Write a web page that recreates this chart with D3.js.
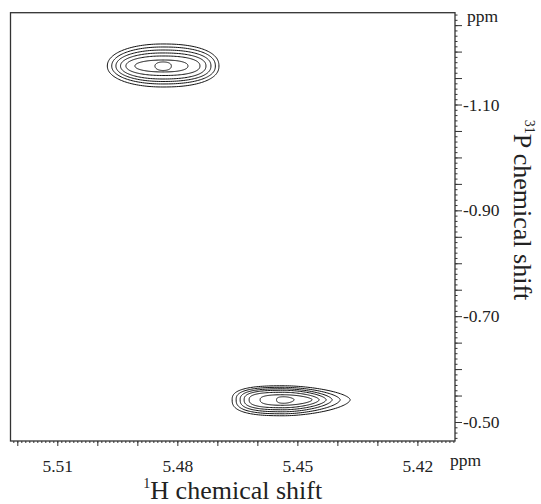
<!DOCTYPE html>
<html>
<head>
<meta charset="utf-8">
<script src="https://cdn.jsdelivr.net/npm/d3@7"></script>
<style>
  body { margin: 0; background: #fff; }
  svg text { font-family: "Liberation Serif", "Times New Roman", serif; fill: #222; }
</style>
</head>
<body>
<svg id="chart" width="541" height="504"></svg>
<script>
const width = 541;
const height = 504;

// ---------- data ----------
const hDomain = [5.5217, 5.4106];          // 1H axis, ppm (left -> right)
const pDomain = [-1.2735, -0.4641];        // 31P axis, ppm (top -> bottom)
const hTickLabels = [5.51, 5.48, 5.45, 5.42];
const pTickLabels = [-1.10, -0.90, -0.70, -0.50];

// cross peak centres (ppm)
const peakH = [5.4836, 5.4533];
const peakP = [-1.1728, -0.5420];

// contour extents from the centre, outer level -> inner level (ppm)
const peak1Left   = [0.0139, 0.0128, 0.01175, 0.0106, 0.00925, 0.0070, 0.0020];
const peak1Right  = [0.0140, 0.0131, 0.0120, 0.01075, 0.00925, 0.00625, 0.0021];
const peak1Top    = [0.0416, 0.0359, 0.0302, 0.0246, 0.0189, 0.0113, 0.0076];
const peak1Bottom = [0.0397, 0.0340, 0.0293, 0.0246, 0.0180, 0.0113, 0.0085];

const peak2Left   = [0.0130, 0.0120, 0.0110, 0.0100, 0.00875, 0.0060, 0.0019];
const peak2Right  = [0.0165, 0.0140, 0.0120, 0.0105, 0.00875, 0.0070, 0.0025];
const peak2Top    = [0.0265, 0.0236, 0.0208, 0.0180, 0.0142, 0.0095, 0.0057];
const peak2Bottom = [0.0302, 0.0265, 0.0227, 0.0189, 0.0151, 0.0104, 0.0066];

// roundness of the outlines on the downfield / upfield side
const peakRoundLeft  = [2.1, 2.7];
const peakRoundRight = [2.3, 1.7];

const plot = { left: 10.5, top: 12.7, right: 455, bottom: 441 };

const x = d3.scaleLinear().domain(hDomain).range([plot.left, plot.right]);
const y = d3.scaleLinear().domain(pDomain).range([plot.top, plot.bottom]);

const svg = d3.select("#chart");

//------------ Contours -------------------------------------------------------//
const peaks = [
    { h: peakH[0], p: peakP[0], left: peak1Left, right: peak1Right, top: peak1Top, bottom: peak1Bottom,
      eL: peakRoundLeft[0], eR: peakRoundRight[0] },
    { h: peakH[1], p: peakP[1], left: peak2Left, right: peak2Right, top: peak2Top, bottom: peak2Bottom,
      eL: peakRoundLeft[1], eR: peakRoundRight[1] }
];

const levels = [];
peaks.forEach(pk => {
    pk.left.forEach((_, i) => {
        levels.push({ h: pk.h, p: pk.p, l: pk.left[i], r: pk.right[i], t: pk.top[i], b: pk.bottom[i],
                      eL: pk.eL, eR: pk.eR });
    });
});

// closed rounded outline through the four extents of a level
function outline(lv) {
    const pts = [];
    const n = 160;
    for (let k = 0; k < n; k++) {
        const a = (k / n) * 2 * Math.PI;
        const c = Math.cos(a), s = Math.sin(a);
        const e = c >= 0 ? lv.eR : lv.eL;
        const cx = Math.sign(c) * Math.pow(Math.abs(c), 2 / e);
        const sy = Math.sign(s) * Math.pow(Math.abs(s), 2 / e);
        pts.push({
            h: lv.h - cx * (c >= 0 ? lv.r : lv.l),
            p: lv.p + sy * (s >= 0 ? lv.b : lv.t)
        });
    }
    return pts;
}

const contourLine = d3.line()
    .x(d => x(d.h))
    .y(d => y(d.p))
    .curve(d3.curveCatmullRomClosed);

svg.append("g")
    .selectAll("path")
    .data(levels)
    .join("path")
    .attr("d", d => contourLine(outline(d)))
    .attr("fill", "none")
    .attr("stroke", "#111")
    .attr("stroke-width", 1);

//------------ Frame ----------------------------------------------------------//
svg.append("rect")
    .attr("x", plot.left)
    .attr("y", plot.top)
    .attr("width", plot.right - plot.left)
    .attr("height", plot.bottom - plot.top)
    .attr("fill", "none")
    .attr("stroke", "#333")
    .attr("stroke-width", 1.3);

const fmt = d => d.toFixed(2);

//------------ Bottom axis (1H) -----------------------------------------------//
const hMinor = d3.range(5521, 5410, -1).map(v => v / 1000);
const hMedium = d3.range(552, 541, -1).map(v => v / 100);

const bottom = svg.append("g").attr("transform", `translate(0,${plot.bottom})`);
bottom.call(d3.axisBottom(x).tickValues(hMinor).tickSize(2).tickFormat(""))
    .call(g => g.select(".domain").remove());
bottom.append("g").call(d3.axisBottom(x).tickValues(hMedium).tickSize(5).tickFormat(""))
    .call(g => g.select(".domain").remove());
bottom.append("g").call(d3.axisBottom(x).tickValues(hTickLabels).tickSize(0).tickPadding(19)
        .tickFormat(fmt))
    .call(g => g.select(".domain").remove())
    .call(g => g.selectAll("text").attr("font-size", 17.5).attr("font-family", "Liberation Serif").attr("fill", "#222"));
bottom.selectAll(".tick line").attr("stroke", "#333");

svg.append("text")
    .attr("x", 450)
    .attr("y", 466)
    .attr("font-size", 17.5)
    .text("ppm");

//------------ Right axis (31P) -----------------------------------------------//
const pMinor = d3.range(-127, -46, 1).map(v => v / 100);
const pMedium = d3.range(-125, -45, 5).map(v => v / 100);

const right = svg.append("g").attr("transform", `translate(${plot.right},0)`);
right.call(d3.axisRight(y).tickValues(pMinor).tickSize(2.5).tickFormat(""))
    .call(g => g.select(".domain").remove());
right.append("g").call(d3.axisRight(y).tickValues(pMedium).tickSize(7).tickFormat(""))
    .call(g => g.select(".domain").remove());
right.append("g").call(d3.axisRight(y).tickValues(pTickLabels).tickSize(0).tickPadding(8)
        .tickFormat(fmt))
    .call(g => g.select(".domain").remove())
    .call(g => g.selectAll("text").attr("font-size", 17.5).attr("font-family", "Liberation Serif").attr("fill", "#222"));
right.selectAll(".tick line").attr("stroke", "#333");

svg.append("text")
    .attr("x", 467)
    .attr("y", 22)
    .attr("font-size", 17.5)
    .text("ppm");

//------------ Axis titles ----------------------------------------------------//
const hTitle = svg.append("text")
    .attr("x", (plot.left + plot.right) / 2)
    .attr("y", 499)
    .attr("text-anchor", "middle")
    .attr("font-size", 26);
hTitle.append("tspan").attr("font-size", 14).attr("dy", -11).text("1");
hTitle.append("tspan").attr("dy", 11).text("H chemical shift");

const pTitle = svg.append("text")
    .attr("transform", "translate(514,210) rotate(90)")
    .attr("text-anchor", "middle")
    .attr("font-size", 26);
pTitle.append("tspan").attr("font-size", 14).attr("dy", -11).text("31");
pTitle.append("tspan").attr("dy", 11).text("P chemical shift");
</script>
</body>
</html>
